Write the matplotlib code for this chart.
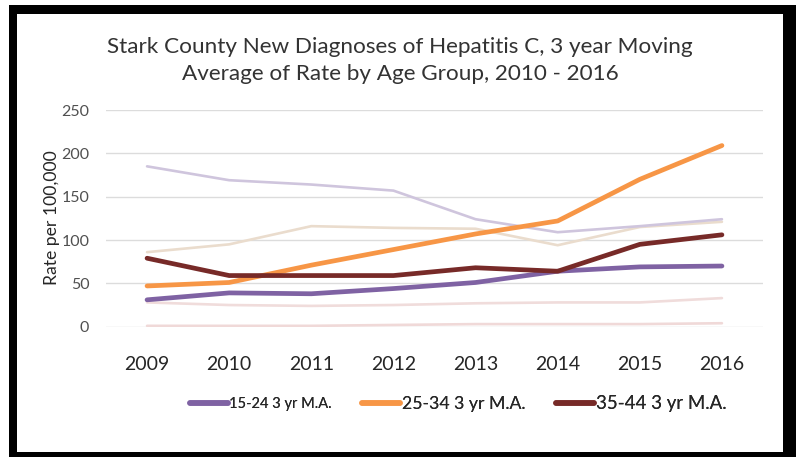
import matplotlib
matplotlib.use("Agg")
import matplotlib.pyplot as plt
from matplotlib.patches import Rectangle

years = ["2009", "2010", "2011", "2012", "2013", "2014", "2015", "2016"]

# highlighted series
ma_15_24 = [31, 39, 38, 44, 51, 64, 69, 70]
ma_25_34 = [47, 51, 71, 89, 107, 122, 170, 209]
ma_35_44 = [79, 59, 59, 59, 68, 64, 95, 106]

# faint background series
faint_lavender = [185, 169, 164, 157, 124, 109, 116, 124]
faint_beige = [86, 95, 116, 114, 113, 94, 115, 121]
faint_pink = [28, 25, 24, 25, 27, 28, 28, 33]
faint_lightpink = [1, 1, 1, 2, 3, 3, 3, 4]

yticks = [0, 50, 100, 150, 200, 250]

W, H = 796, 457
fig = plt.figure(figsize=(W / 100, H / 100), dpi=100)
fig.patch.set_facecolor("white")

# frame
fig.patches.append(Rectangle((9 / W, 0), (W - 9) / W, 1 - 5 / H, transform=fig.transFigure,
                             facecolor="black", edgecolor="none", zorder=-2))
fig.patches.append(Rectangle((17 / W, 1 - 452 / H), (783 - 17) / W, (452 - 14) / H,
                             transform=fig.transFigure, facecolor="white", edgecolor="none", zorder=-1))

ax = fig.add_axes([106 / W, 1 - 326.7 / H, (763 - 106) / W, (326.7 - 110) / H])
ax.set_zorder(2)
ax.set_facecolor("none")
x = list(range(len(years)))

faint_w = 1.9
ax.plot(x, faint_lightpink, color="#f0d9d8", lw=faint_w, solid_capstyle="round", zorder=2)
ax.plot(x, faint_pink, color="#f0dcdb", lw=faint_w, solid_capstyle="round", zorder=2)
ax.plot(x, faint_beige, color="#eadccd", lw=faint_w, solid_capstyle="round", zorder=2)
ax.plot(x, faint_lavender, color="#cfc5dd", lw=faint_w, solid_capstyle="round", zorder=2)

main_w = 3.4
l1, = ax.plot(x, ma_15_24, color="#7f62a3", lw=main_w, solid_capstyle="round", zorder=3)
l2, = ax.plot(x, ma_25_34, color="#f79646", lw=main_w, solid_capstyle="round", zorder=3)
l3, = ax.plot(x, ma_35_44, color="#772a28", lw=main_w, solid_capstyle="round", zorder=4)

ax.set_xlim(-0.5, len(years) - 0.5)
ax.set_ylim(0, 250)
ax.set_yticks(yticks)
ax.set_yticklabels([str(v) for v in yticks], fontsize=11.5, color="#505050", family="Lato")
ax.set_xticks(x)
ax.set_xticklabels(years, fontsize=14, color="#262626", family="Lato")
ax.tick_params(axis="both", length=0)
ax.tick_params(axis="x", pad=21)
ax.tick_params(axis="y", pad=12)
for s in ax.spines.values():
    s.set_visible(False)
ax.grid(axis="y", color="#dcdcdc", lw=1.0, zorder=1)
ax.set_axisbelow(True)
ax.set_ylabel("Rate per 100,000", fontsize=12.7, color="#262626", family="Lato")
ax.yaxis.label.set_va("center")
ax.yaxis.set_label_coords(-(106 - 52) / (763 - 106), (326.7 - 218) / (326.7 - 110))

fig.text(400 / W, 1 - 47 / H, "Stark County New Diagnoses of Hepatitis C, 3 year Moving",
         ha="center", va="center", fontsize=16.2, color="#333333", family="Lato")
fig.text(400 / W, 1 - 74 / H, "Average of Rate by Age Group, 2010 - 2016",
         ha="center", va="center", fontsize=16.2, color="#333333", family="Lato")

legend_specs = [
    (l1, "15-24 3 yr M.A.", 190, 10.5),
    (l2, "25-34 3 yr M.A.", 362, 12.7),
    (l3, "35-44 3 yr M.A.", 556, 13.4),
]
for handle, label, xpx, fs in legend_specs:
    leg = fig.legend([handle], [label], loc="center left",
                     bbox_to_anchor=(xpx / W, 1 - 404 / H), frameon=False,
                     prop={"family": "Lato", "size": fs}, borderpad=0, borderaxespad=0,
                     handlelength=38 / (fs * 100 / 72), handletextpad=0.1)
    for t in leg.get_texts():
        t.set_color("#262626")
    for lh in leg.get_lines():
        lh.set_linewidth(4)
    fig.add_artist(leg)

fig.savefig("out.png", dpi=100)
